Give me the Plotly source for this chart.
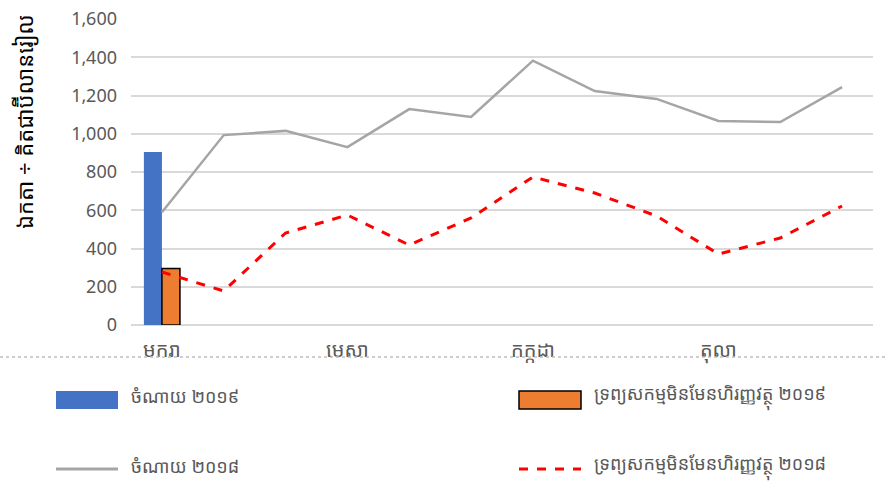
import plotly.graph_objects as go

months = ["មករា", "កុម្ភៈ", "មីនា", "មេសា", "ឧសភា", "មិថុនា",
          "កក្កដា", "សីហា", "កញ្ញា", "តុលា", "វិច្ឆិកា", "ធ្នូ"]
tick_months = ["មករា", "មេសា", "កក្កដា", "តុលា"]

expense_2019 = [905, None, None, None, None, None, None, None, None, None, None, None]
nonfin_2019 = [295, None, None, None, None, None, None, None, None, None, None, None]
expense_2018 = [590, 993, 1015, 930, 1129, 1088, 1382, 1223, 1182, 1067, 1061, 1244]
nonfin_2018 = [277, 178, 481, 575, 418, 560, 774, 690, 570, 371, 455, 622]

names = ["ចំណាយ ២០១៩", "ទ្រព្យសកម្មមិនមែនហិរញ្ញវត្ថុ ២០១៩",
         "ចំណាយ ២០១៨", "ទ្រព្យសកម្មមិនមែនហិរញ្ញវត្ថុ ២០១៨"]
y_title = "ឯកតា ÷ គិតជាប៊ីលានរៀល"
y_ticks = [0, 200, 400, 600, 800, 1000, 1200, 1400, 1600]

BLUE = "#4472c4"
ORANGE = "#ed7d31"
GRAY = "#a5a5a5"
RED = "#ff0000"
FONT = "Noto Sans Khmer, Khmer OS, Open Sans, Noto Sans, sans-serif"

W, H = 888, 503
L, R, T, B = 131, 15, 19, 178
PW, PH = W - L - R, H - T - B


def px(x):
    return (x - L) / PW


def py(y):
    return (H - B - y) / PH


fig = go.Figure()
fig.add_trace(go.Bar(x=months, y=expense_2019, name=names[0], marker_color=BLUE,
                     marker_line_width=0, showlegend=False))
fig.add_trace(go.Bar(x=months, y=nonfin_2019, name=names[1], marker_color=ORANGE,
                     marker_line=dict(color="#000000", width=1.5), showlegend=False))
fig.add_trace(go.Scatter(x=months, y=expense_2018, name=names[2], mode="lines",
                         line=dict(color=GRAY, width=2.5), showlegend=False))
fig.add_trace(go.Scatter(x=months, y=nonfin_2018, name=names[3], mode="lines",
                         line=dict(color=RED, width=3, dash="dash"), showlegend=False))

shapes = [
    dict(type="line", xref="paper", yref="paper", x0=px(0), x1=px(W), y0=py(357), y1=py(357),
         line=dict(color="#bfbfbf", width=1.5, dash="dot")),
    dict(type="rect", xref="paper", yref="paper", x0=px(56), x1=px(118), y0=py(409), y1=py(391),
         fillcolor=BLUE, line=dict(width=0)),
    dict(type="rect", xref="paper", yref="paper", x0=px(519), x1=px(581), y0=py(409), y1=py(391),
         fillcolor=ORANGE, line=dict(color="#000000", width=1.5)),
    dict(type="line", xref="paper", yref="paper", x0=px(56), x1=px(118), y0=py(469), y1=py(469),
         line=dict(color=GRAY, width=3)),
    dict(type="line", xref="paper", yref="paper", x0=px(519), x1=px(581), y0=py(469), y1=py(469),
         line=dict(color=RED, width=3, dash="dash")),
]

annotations = [
    dict(text=y_title, xref="paper", yref="paper", x=px(24), y=py(122), textangle=-90,
         showarrow=False, font=dict(size=22, color="#000000", family=FONT),
         xanchor="center", yanchor="middle"),
]
for name, lx, ly in [(names[0], 129, 396), (names[1], 592, 396),
                     (names[2], 129, 466), (names[3], 592, 466)]:
    annotations.append(dict(text=name, xref="paper", yref="paper", x=px(lx), y=py(ly),
                            xanchor="left", yanchor="middle", showarrow=False,
                            font=dict(size=18, color="#595959", family=FONT)))

fig.update_layout(
    width=W, height=H,
    margin=dict(l=L, r=R, t=T, b=B, pad=0, autoexpand=False),
    paper_bgcolor="white", plot_bgcolor="white",
    barmode="group", bargap=0.417, bargroupgap=0,
    font=dict(family=FONT, color="#595959", size=16),
    shapes=shapes, annotations=annotations,
    showlegend=False,
)
fig.update_xaxes(type="category", categoryorder="array", categoryarray=months,
                 tickmode="array", tickvals=tick_months, ticktext=tick_months,
                 showgrid=False, showline=False, ticks="", zeroline=False,
                 automargin=False, ticklabelstandoff=11,
                 tickfont=dict(size=20, color="#595959"))
fig.update_yaxes(range=[0, 1600], tickvals=y_ticks, tickformat=",d",
                 showgrid=True, gridcolor="#d9d9d9", gridwidth=1.5,
                 zeroline=True, zerolinecolor="#d9d9d9", zerolinewidth=1.5,
                 showline=False, ticks="", ticklabelstandoff=13, automargin=False,
                 tickfont=dict(size=18, color="#595959"))

fig.write_html("out.html", config={"displayModeBar": False},
               post_script="document.body.style.margin='0';")
